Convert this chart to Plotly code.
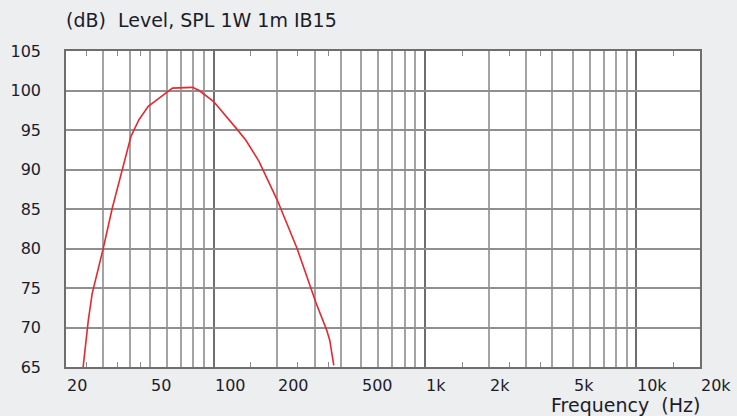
import numpy as np
import plotly.graph_objects as go

# Data
freq_hz = [24.1, 25.5, 26.6, 30.0, 33.1, 36.9, 40.6, 44.3, 49.0, 55.0, 59.2, 63.8, 79.4,
           85.4, 99.9, 110, 127, 142, 164, 200, 248, 305, 342, 354, 370]
level_db = [65.0, 70.9, 74.3, 80.0, 85.1, 89.9, 94.2, 96.3, 98.0, 99.0, 99.6, 100.3, 100.4,
            100.0, 98.6, 97.3, 95.3, 93.7, 91.0, 86.1, 80.0, 73.1, 69.7, 68.4, 65.2]

x_tick_vals = [20, 50, 100, 200, 500, 1000, 2000, 5000, 10000, 20000]
x_tick_text = ["20", "50", "100", "200", "500", "1k", "2k", "5k", "10k", "20k"]
decade_grid = [100, 1000, 10000]
minor_grid = [m * d for d in (10, 100, 1000) for m in range(2, 10)]
minor_grid = [v for v in minor_grid if v not in decade_grid and v > 20]
short_ticks = [25, 35, 45, 150, 250, 350, 1500, 2500, 3500, 15000]
y_tick_vals = [65, 70, 75, 80, 85, 90, 95, 100, 105]

FONT = "DejaVu Sans"
FS = 16
FS_LABEL = 19
TXT = "#1c1c2a"

fig = go.Figure()
fig.add_trace(go.Scatter(x=freq_hz, y=level_db, mode="lines",
                         line=dict(color="#e8282d", width=1.6),
                         showlegend=False, hoverinfo="skip"))
# invisible traces to anchor tick-only axes
fig.add_trace(go.Scatter(x=[20, 20000], y=[65, 65], xaxis="x2", mode="markers",
                         marker=dict(opacity=0), showlegend=False, hoverinfo="skip"))
fig.add_trace(go.Scatter(x=[20, 20000], y=[65, 65], xaxis="x3", mode="markers",
                         marker=dict(opacity=0), showlegend=False, hoverinfo="skip"))

xr = [np.log10(20), np.log10(20000)]
fig.update_layout(
    width=737, height=416,
    margin=dict(l=66, r=37, t=51, b=49),
    paper_bgcolor="#eceef0", plot_bgcolor="#ffffff",
    font=dict(family=FONT, size=FS, color=TXT),
    xaxis=dict(type="log", range=xr, tickvals=decade_grid, showticklabels=False,
               ticks="", showgrid=True, gridcolor="#6e6e6e", gridwidth=2,
               minor=dict(tickvals=minor_grid, showgrid=True, gridcolor="#a3a3a3",
                          gridwidth=1.6, ticks=""),
               showline=True, linecolor="#6e6e6e", linewidth=1.5, mirror=True,
               zeroline=False, fixedrange=True),
    xaxis2=dict(type="log", range=xr, overlaying="x", side="top", anchor="y",
                tickvals=short_ticks, ticks="inside", ticklen=5, tickwidth=1.3,
                tickcolor="#8a8a8a", showticklabels=False, showgrid=False,
                showline=False, zeroline=False),
    xaxis3=dict(type="log", range=xr, overlaying="x", side="bottom", anchor="y",
                tickvals=short_ticks, ticks="inside", ticklen=5, tickwidth=1.3,
                tickcolor="#8a8a8a", showticklabels=False, showgrid=False,
                showline=False, zeroline=False),
    yaxis=dict(range=[65, 105], tickvals=y_tick_vals, ticks="outside", ticklen=20,
               tickcolor="rgba(0,0,0,0)", showgrid=True, gridcolor="#8f8f8f",
               gridwidth=1.6, showline=True, linecolor="#6e6e6e", linewidth=1.5,
               mirror=True, zeroline=False, fixedrange=True,
               tickfont=dict(family=FONT, size=FS, color=TXT)),
)

for v, t in zip(x_tick_vals, x_tick_text):
    fig.add_annotation(x=np.log10(v), y=0, xref="x", yref="paper", text=t,
                       showarrow=False, xanchor="left", yanchor="top", yshift=-7,
                       xshift=-1, font=dict(family=FONT, size=FS, color=TXT))

fig.add_annotation(x=0, y=1, xref="paper", yref="paper",
                   text="(dB)&nbsp;&nbsp;Level, SPL 1W 1m IB15",
                   showarrow=False, xanchor="left", yanchor="bottom", yshift=18,
                   xshift=-2, font=dict(family=FONT, size=FS_LABEL, color=TXT))
fig.add_annotation(x=1, y=0, xref="paper", yref="paper",
                   text="Frequency&nbsp;&nbsp;(Hz)",
                   showarrow=False, xanchor="right", yanchor="top", yshift=-25,
                   xshift=2, font=dict(family=FONT, size=FS_LABEL, color=TXT))

fig.write_html("out.html", config={"displayModeBar": False},
               post_script="document.body.style.margin='0px';")
